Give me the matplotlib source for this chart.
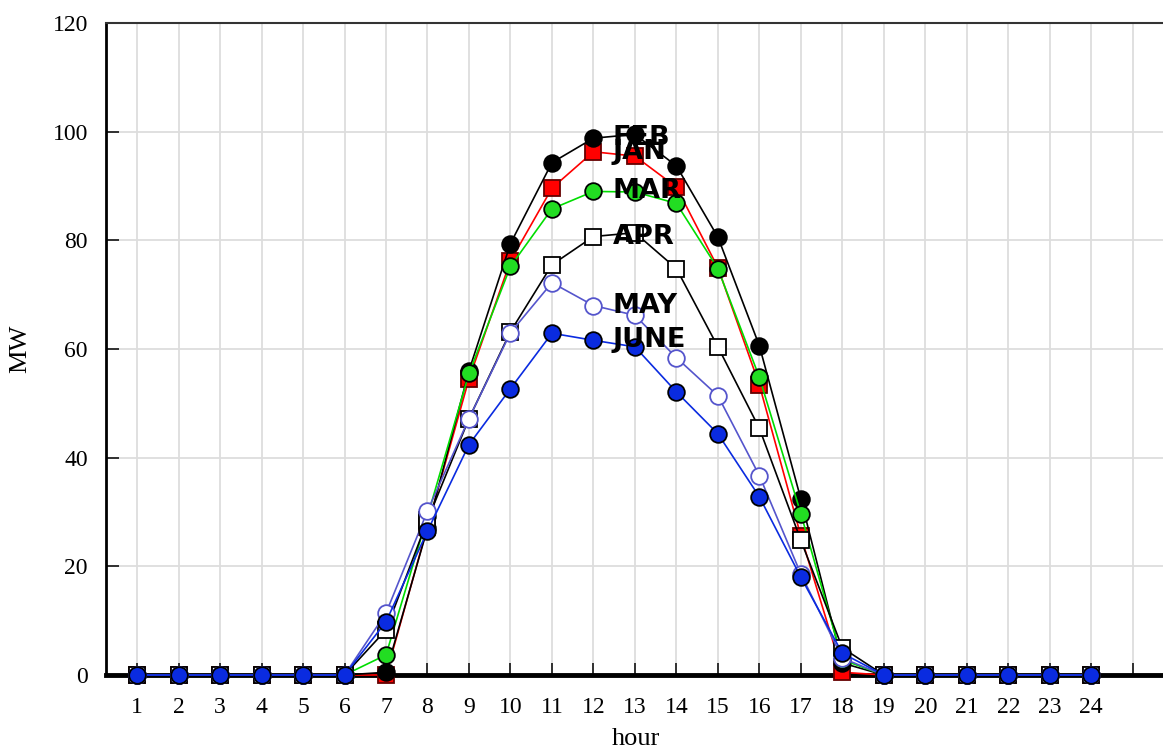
import matplotlib
matplotlib.use("Agg")
import matplotlib.pyplot as plt

hours = list(range(1, 25))

jan = [0, 0, 0, 0, 0, 0, 0.0, 27.3, 54.5, 76.2, 89.6, 96.3, 95.5, 89.8,
       75.0, 53.4, 25.6, 0.5, 0, 0, 0, 0, 0, 0]
feb = [0, 0, 0, 0, 0, 0, 0.5, 27.0, 56.0, 79.4, 94.3, 98.8, 99.5, 93.7,
       80.6, 60.6, 32.4, 2.2, 0, 0, 0, 0, 0, 0]
mar = [0, 0, 0, 0, 0, 0, 3.7, 29.2, 55.5, 75.2, 85.8, 89.0, 88.9, 86.8,
       74.8, 54.8, 29.7, 2.8, 0, 0, 0, 0, 0, 0]
apr = [0, 0, 0, 0, 0, 0, 8.3, 28.5, 47.2, 63.2, 75.5, 80.7, 81.4, 74.8,
       60.4, 45.4, 24.8, 5.0, 0, 0, 0, 0, 0, 0]
may = [0, 0, 0, 0, 0, 0, 11.4, 30.2, 47.2, 63.0, 72.2, 68.0, 66.2, 58.4,
       51.4, 36.7, 18.6, 3.1, 0, 0, 0, 0, 0, 0]
june = [0, 0, 0, 0, 0, 0, 9.8, 26.5, 42.4, 52.7, 62.9, 61.6, 60.4, 52.1,
        44.4, 32.8, 18.0, 4.0, 0, 0, 0, 0, 0, 0]

month_names = ["JAN", "FEB", "MAR", "APR", "MAY", "JUNE"]
label_hour = 12

plt.rcParams["font.family"] = ["Liberation Serif", "DejaVu Serif"]

fig = plt.figure(figsize=(11.63, 7.51), dpi=100)
ax = fig.add_axes([106 / 1163, 1 - 675 / 751, 1 - 106 / 1163, (675 - 23) / 751])

styles = [
    dict(color="#ff0000", marker="s", mfc="#ff0000", mec="#660000", ms=11),
    dict(color="#000000", marker="o", mfc="#000000", mec="#000000", ms=12),
    dict(color="#00dd00", marker="o", mfc="#22dd22", mec="#000000", ms=12),
    dict(color="#000000", marker="s", mfc="white", mec="#000000", ms=11),
    dict(color="#5555cc", marker="o", mfc="white", mec="#5555cc", ms=12),
    dict(color="#0a2be0", marker="o", mfc="#0a2be0", mec="#000000", ms=12),
]
series = [jan, feb, mar, apr, may, june]

for vals, st in zip(series, styles):
    ax.plot(hours, vals, lw=1.2, mew=1.3, color=st["color"], marker=st["marker"],
            markerfacecolor=st["mfc"], markeredgecolor=st["mec"],
            markersize=st["ms"], zorder=3, clip_on=False)

for name, vals in zip(month_names, series):
    ax.text(label_hour + 0.47, vals[hours.index(label_hour)], name,
            family="DejaVu Sans", fontweight="bold", fontsize=19.5,
            ha="left", va="center", zorder=5)

ax.set_xlim(0.25, 25.73)
ax.set_ylim(0, 120)
ax.set_xticks(range(1, 26))
ax.set_xticklabels([str(h) for h in hours] + [""])
ax.set_yticks(range(0, 121, 20))

ax.grid(True, color="#dddddd", lw=1.3, zorder=0)
ax.set_axisbelow(True)

ax.spines["right"].set_visible(False)
ax.spines["top"].set_color("#333333")
ax.spines["top"].set_linewidth(1.5)
ax.spines["left"].set_color("black")
ax.spines["left"].set_linewidth(2)
ax.spines["bottom"].set_color("black")
ax.spines["bottom"].set_linewidth(3.5)
ax.spines["bottom"].set_zorder(2)

ax.tick_params(axis="both", direction="in", length=9, width=1.3,
               color="#222222", labelsize=17)
ax.tick_params(axis="x", pad=16)
ax.tick_params(axis="y", pad=13)
ax.tick_params(top=False, right=False)

ax.set_xlabel("hour", fontsize=19)
ax.set_ylabel("MW", fontsize=19)
ax.xaxis.set_label_coords(0.501, -0.082)
ax.yaxis.set_label_coords(-0.071, 0.50)

fig.savefig("out.png", dpi=100)
